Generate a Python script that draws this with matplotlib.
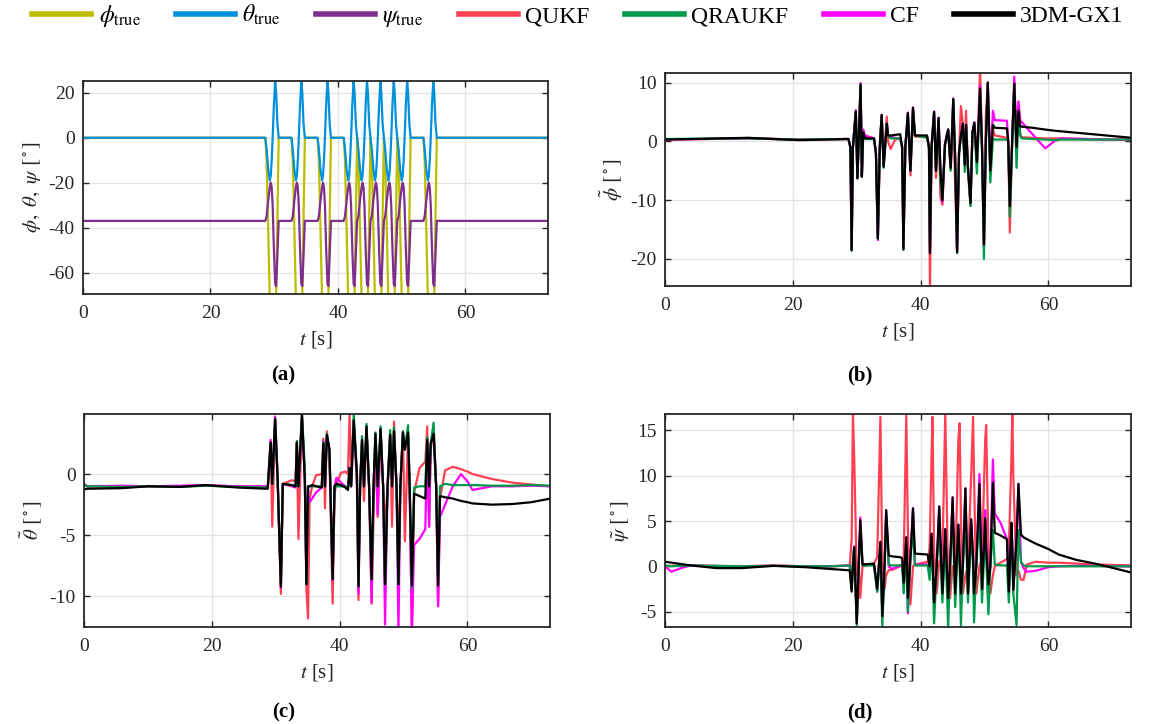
import matplotlib.pyplot as plt
import numpy as np

# serif fonts, MATLAB-like look
plt.rcParams['font.family'] = ['Liberation Serif', 'DejaVu Serif']
plt.rcParams['mathtext.fontset'] = 'stix'
plt.rcParams['axes.unicode_minus'] = False

C_PHI = '#BDBD00'
C_THETA = '#0090DC'
C_PSI = '#7E2F8E'
C_QUKF = '#FF4052'
C_QRAUKF = '#00984A'
C_CF = '#FF00FF'
C_GX1 = '#000000'

# ---------------- (a) true angles ----------------
t_a = [0,
       28.6, 28.8, 29.05, 29.3, 29.45, 29.6, 29.75, 29.95, 30.15, 30.3, 30.5, 30.7,
       32.7, 32.9, 33.15, 33.4, 33.55, 33.7, 33.85, 34.05, 34.25, 34.4, 34.6, 34.8,
       36.8, 37.0, 37.25, 37.5, 37.65, 37.8, 37.95, 38.15, 38.35, 38.5, 38.7, 38.9,
       40.9, 41.1, 41.35, 41.6, 41.75, 41.9, 42.05, 42.25, 42.45, 42.6, 42.8, 43.0,
       43.2, 43.45, 43.7, 43.85, 44.0, 44.15, 44.35, 44.55, 44.7, 44.9, 45.1,
       45.3, 45.55, 45.8, 45.95, 46.1, 46.25, 46.45, 46.65, 46.8, 47.0, 47.2,
       47.4, 47.65, 47.9, 48.05, 48.2, 48.35, 48.55, 48.75, 48.9, 49.1, 49.3,
       49.5, 49.75, 50.0, 50.15, 50.3, 50.45, 50.65, 50.85, 51.0, 51.2, 51.4,
       53.4, 53.6, 53.85, 54.1, 54.25, 54.4, 54.55, 54.75, 54.95, 55.1, 55.3, 55.5,
       73.0]
theta_true = [0,
              0, -5, -14, -19, -17, -10, 0, 15, 25, 20, 6, 0,
              0, -5, -14, -19, -17, -10, 0, 15, 25, 20, 6, 0,
              0, -5, -14, -19, -17, -10, 0, 15, 25, 20, 6, 0,
              0, -5, -14, -19, -17, -10, 0, 15, 25, 20, 6, 0,
              -5, -14, -19, -17, -10, 0, 15, 25, 20, 6, 0,
              -5, -14, -19, -17, -10, 0, 15, 25, 20, 6, 0,
              -5, -14, -19, -17, -10, 0, 15, 25, 20, 6, 0,
              -5, -14, -19, -17, -10, 0, 15, 25, 20, 6, 0,
              0, -5, -14, -19, -17, -10, 0, 15, 25, 20, 6, 0,
              0]
psi_true = [-37,
            -37, -35, -28, -22, -20, -22, -30, -50, -65, -66, -52, -37,
            -37, -35, -28, -22, -20, -22, -30, -50, -65, -66, -52, -37,
            -37, -35, -28, -22, -20, -22, -30, -50, -65, -66, -52, -37,
            -37, -35, -28, -22, -20, -22, -30, -50, -65, -66, -52, -37,
            -35, -28, -22, -20, -22, -30, -50, -65, -66, -52, -37,
            -35, -28, -22, -20, -22, -30, -50, -65, -66, -52, -37,
            -35, -28, -22, -20, -22, -30, -50, -65, -66, -52, -37,
            -35, -28, -22, -20, -22, -30, -50, -65, -66, -52, -37,
            -37, -35, -28, -22, -20, -22, -30, -50, -65, -66, -52, -37,
            -37]
phi_true = [0,
            0, -10, -40, -72, -88, -97, -100, -97, -85, -70, -35, 0,
            0, -10, -40, -72, -88, -97, -100, -97, -85, -70, -35, 0,
            0, -10, -40, -72, -88, -97, -100, -97, -85, -70, -35, 0,
            0, -10, -40, -72, -88, -97, -100, -97, -85, -70, -35, 0,
            -10, -40, -72, -88, -97, -100, -97, -85, -70, -35, 0,
            -10, -40, -72, -88, -97, -100, -97, -85, -70, -35, 0,
            -10, -40, -72, -88, -97, -100, -97, -85, -70, -35, 0,
            -10, -40, -72, -88, -97, -100, -97, -85, -70, -35, 0,
            0, -10, -40, -72, -88, -97, -100, -97, -85, -70, -35, 0,
            0]

# ---------------- (b) roll error ----------------
t_b = [0.0, 13.0, 21.0, 28.7, 29.0, 29.2, 29.4, 29.85, 30.1, 30.6, 30.8, 31.0, 31.3,
       32.7, 33.0, 33.3, 33.6, 33.9, 34.2, 34.7, 34.9, 35.3, 36.0, 36.8, 37.1, 37.3,
       37.6, 38.0, 38.4, 38.8, 39.1, 41.0, 41.3, 41.45, 41.7, 42.1, 42.4, 42.8, 43.1,
       43.4, 43.8, 44.3, 44.7, 45.1, 45.4, 45.7, 46.0, 46.3, 46.6, 46.9, 47.1, 47.4,
       47.8, 48.1, 48.4, 48.8, 49.3, 49.6, 49.9, 50.2, 50.5, 50.9, 51.3, 51.6, 53.5,
       53.7, 53.95, 54.35, 54.65, 55.0, 55.3, 55.6, 55.8, 57.5, 59.5, 61.0, 62.0,
       69.0, 73.0]
gx1_b = [0.3, 0.6, 0.2, 0.4, -1, -18.5, -1, 5.1, -6.3, 9.7, -6, 1.5, 0.5,
         0.5, -2, -16.5, -1, 4.5, -4.3, 3.0, 1.0, 1.0, 1.1, 1.2, -1, -18.3,
         -1, 4.8, -5.0, 5.7, 1.0, 1.0, -1, -19, -1, 5.0, -5.0, 4.0, -5,
         -10, -0.5, 2.0, -4.5, 7.2, -3, -18.8, -2, 1, 3.0, -4.0, 2.8, -4.5,
         -10.5, 1.5, 3.2, -3.5, 9.0, -1, -17.5, 0, 10, -5, 2.8, 2.3, 2.2,
         0, -11, 1, 9.8, -1, 5.2, 2.5, 2.5, 2.3, 2.0, 1.8, 1.7,
         1.0, 0.6]
qukf_b = [0.3, 0.5, 0.3, 0.4, -1, -18.3, -1, 5.0, -6.0, 9.5, -5.8, 1.0, 0.8,
          0.5, -2, -16.3, -1, 4.3, -4, 4.2, 0.0, -1.3, 0.3, 0.5, -1, -18.0,
          -1, 4.6, -5.8, 5.5, 0.8, 0.8, -1, -26, -1, 4.8, -6.2, 3.0, -9.5,
          -10.8, -1, 2.0, -4.8, 6.0, -8, -18.5, -2, 6.0, 3.0, -3, 5.2, -5,
          -11, 1.5, 3.0, -3.5, 12.5, -1, -18, 4.5, 9.5, -5.5, 2, 1.0, 0.6,
          0, -15.5, 1, 10.0, -1, 5.0, 1.0, 0.7, 0.6, 0.5, 0.5, 0.5,
          0.3, 0.3]
qraukf_b = [0.4, 0.5, 0.3, 0.4, -1, -18.6, -1, 5.0, -6.3, 9.5, -6, 1.2, 0.4,
            0.4, -2, -16.6, -1, 4.3, -4.5, 3.0, 1.0, 0.5, 0.5, 0.5, -1, -18.5,
            -1, 4.6, -4.8, 5.5, 1.0, 0.6, -1, -18.5, -1, 4.8, -5, 3.5, -7,
            -9.8, -0.5, 2.0, -5, 7.0, -3, -19, -2, 1, 2.5, -5.2, 2.8, -4.5,
            -11, 1.5, 3.0, -5.5, 8.5, -1, -20, 0, 9.5, -7, 0.5, 0.3, 0.3,
            0, -12.8, 1, 9.5, -4.5, 4.5, 1.0, 0.5, 0.4, 0.3, 0.2, 0.3,
            0.3, 0.3]
cf_b = [0.3, 0.5, 0.3, 0.4, -1, -18.5, -1, 5.3, -6.2, 9.9, -6, 2.0, 1.0,
        0.5, -2, -16.8, -1, 4.5, -4.3, 2.8, 1.0, 0.8, 0.6, 0.5, -1, -18.3,
        -1, 4.9, -5.0, 5.8, 1.0, 0.8, -1, -19, -1, 5.1, -5, 4.0, -5,
        -10.3, -0.5, 2.0, -4.5, 7.3, -3, -19, -2, 1, 3.0, -4, 2.8, -4.5,
        -10.5, 1.5, 3.2, -3.5, 9.5, -1, -17.8, 0, 10, -5, 5.2, 3.6, 3.5,
        0, -11, 1, 11.0, -1, 6.8, 3.5, 3.3, 1.2, -1.2, 0.1, 0.5,
        0.3, 0.3]

# ---------------- (c) pitch error ----------------
t_c = [0.0, 0.5, 6.0, 10.0, 15.0, 19.0, 24.0, 28.75, 29.2, 29.45, 29.9, 30.3, 30.8,
       31.1, 32.5, 33.1, 33.3, 33.55, 34.1, 34.55, 34.8, 35.05, 35.3, 35.7, 36.3,
       37.2, 37.45, 37.7, 38.0, 38.4, 38.9, 39.2, 39.5, 40.2, 40.9, 41.3, 41.55,
       41.8, 42.2, 42.7, 42.95, 43.2, 43.5, 43.8, 44.2, 44.6, 45.0, 45.3, 45.6,
       45.95, 46.4, 46.8, 47.1, 47.5, 47.9, 48.2, 48.5, 48.9, 49.2, 49.5, 49.9,
       50.2, 50.7, 50.95, 51.3, 51.65, 52.5, 53.4, 53.7, 54.0, 54.25, 54.7, 55.1,
       55.4, 55.7, 56.5, 57.7, 59.0, 60.0, 60.8, 63.8, 67.0, 70.0, 73.0]
gx1_c = [-1.25, -1.2, -1.15, -1.0, -1.05, -0.9, -1.1, -1.2, 2.6, -0.8, 4.5, -0.5, -9.2,
         -0.8, -0.9, -1.0, 2.6, -1.0, 4.9, -0.5, -9.0, -1.0, -1.0, -0.9, -1.0,
         -1.1, 2.5, -1.0, 3.2, 2.0, -8.6, -1.0, -0.8, -0.9, -1.1, -1.3, 0.5,
         -1.0, 4.4, 0.0, -9.2, -1.0, 2.8, -1.0, 3.9, -1.0, -8.6, -1.0, 3.3,
         -1.0, 3.7, -1.0, -9.0, -1.0, 3.2, -1.0, 3.5, -1.0, -9.0, -1.0, 3.4,
         2.0, 3.4, -1.0, -9.1, -1.6, -1.8, -2.0, 2.8, -1.0, 2.5, 3.3, -1.0,
         -9.1, -1.8, -1.9, -2.0, -2.2, -2.3, -2.4, -2.5, -2.45, -2.3, -2.0]
qukf_c = [-0.9, -1.0, -1.0, -1.0, -1.0, -0.95, -1.0, -1.05, 2.5, -4.3, 4.4, -0.5, -9.8,
          -0.8, -0.5, -0.6, 2.6, -5.3, 4.7, -0.5, -9.5, -11.8, -2.0, -1.0, -0.1,
          0.0, 2.9, -2.8, 3.5, 1.5, -10.6, -1.5, -0.8, 0.1, 0.2, 0.0, 4.9,
          0.0, 4.4, -1.0, -10.3, -1.0, 2.7, -2.2, 3.5, -1.0, -10.6, -3.5, 3.2,
          -3.5, 3.5, -1.0, -4.3, -1.0, 3.3, -4.3, 4.3, -1.0, -5.5, -1.0, 3.5,
          -5.5, 3.0, -1.0, -13.0, -1.5, 0.5, 1.0, 3.9, -4.3, 2.0, 3.8, -1.0,
          -10.8, -2.0, 0.3, 0.6, 0.4, 0.2, 0.0, -0.4, -0.7, -0.85, -1.0]
qraukf_c = [-0.85, -1.0, -1.05, -1.0, -1.05, -0.95, -1.05, -1.1, 2.5, -0.8, 4.5, -0.5, -9.0,
            -0.8, -0.9, -1.0, 2.7, -1.0, 4.9, 0.5, -9.0, -1.0, -1.0, -1.0, -1.0,
            -1.0, 2.6, -1.0, 3.3, 2.0, -8.5, -1.0, -1.0, -1.0, -1.0, -1.2, 0.5,
            -1.0, 4.9, 0.0, -9.1, -1.0, 3.1, -1.0, 4.1, -1.0, -8.6, -1.0, 3.4,
            -1.0, 3.9, -1.0, -9.0, -1.0, 3.6, -1.0, 3.8, -1.0, -9.0, -1.0, 3.5,
            2.0, 4.0, -1.0, -9.3, -1.1, -1.0, -1.0, 3.0, -1.0, 2.5, 4.2, -1.0,
            -9.0, -1.0, -0.8, -0.9, -0.9, -0.9, -0.9, -0.95, -0.95, -0.9, -0.95]
cf_c = [-0.8, -1.0, -0.95, -1.0, -0.95, -0.9, -1.0, -1.0, 2.8, -0.8, 4.7, -0.5, -9.3,
        -0.8, -1.0, -1.1, 2.5, -1.0, 4.6, -0.5, -9.0, -1.2, -2.3, -2.0, -1.5,
        -1.1, 2.7, -1.0, 3.0, 2.0, -8.7, -1.0, -0.3, -0.7, -1.0, -1.2, 0.5,
        -1.0, 4.2, 0.0, -9.8, -1.0, 2.6, -1.0, 3.8, -1.0, -10.5, -1.0, 3.0,
        -3.3, 3.6, -1.0, -12.3, -1.0, 3.1, -1.0, 3.4, -1.0, -13.0, -1.0, 3.3,
        2.0, 3.3, -1.0, -13.0, -5.8, -5.3, -4.5, 2.6, -4.3, 2.5, 3.1, -1.0,
        -10.8, -3.5, -2.5, -1.0, 0.0, -0.6, -1.3, -1.0, -1.0, -0.95, -1.0]

# ---------------- (d) yaw error ----------------
t_d = [0.0, 1.0, 2.5, 4.0, 8.0, 12.0, 17.0, 22.0, 26.0, 28.9, 29.2, 29.4, 29.6,
       30.0, 30.3, 30.55, 30.9, 32.7, 33.2, 33.7, 34.0, 34.35, 34.6, 35.0, 35.5,
       36.8, 37.1, 37.35, 37.75, 38.0, 38.4, 38.8, 39.1, 41.1, 41.4, 41.7, 41.85,
       42.1, 42.5, 42.9, 43.4, 43.85, 44.3, 44.6, 45.0, 45.4, 45.9, 46.1, 46.3,
       46.6, 47.0, 47.4, 47.9, 48.2, 48.35, 48.7, 49.2, 49.6, 50.1, 50.25, 50.6,
       50.9, 51.3, 51.6, 52.5, 53.5, 53.8, 54.2, 54.35, 54.5, 55.0, 55.3, 55.7,
       56.1, 56.6, 58.0, 60.0, 61.6, 64.4, 67.3, 70.2, 73.0]
gx1_d = [0.5, 0.4, 0.25, 0.1, -0.2, -0.2, 0.05, -0.1, -0.3, -0.45, -2.8, 0.0, 2.1,
         -6.3, 0.0, 5.1, 0.2, 0.3, -2.5, 2.7, -5.5, 0.0, 6.2, 1.2, 1.1,
         1.0, 0.9, -1.8, 3.2, -3.5, 1.0, 6.4, 1.4, 1.3, 0.0, 3.6, 1.0,
         -4.0, 0.0, 6.6, -3.0, 4.1, -3.5, 0.0, 7.6, -3.0, 4.6, 1.0, -3.0,
         0.0, 8.6, -3.0, 5.2, 1.0, -3.0, 0.0, 9.1, -2.5, 5.3, 2.0, -2.0,
         0.0, 9.2, 3.7, 3.4, 3.0, -2.8, 4.8, 2.0, -2.6, 3.0, 9.1, 3.5,
         3.2, 3.0, 2.5, 1.9, 1.3, 0.7, 0.3, -0.2, -0.7]
qukf_d = [0.0, 0.05, 0.1, 0.1, 0.05, 0.0, 0.1, 0.0, 0.0, 0.1, 3.0, 17.0, 12.0,
          -1.0, 0.5, -3.5, 0.0, 0.3, 1.0, 16.5, 0.0, -2.5, -1.0, -0.4, -0.4,
          0.0, 0.0, 1.0, 16.7, 4.0, -4.2, 0.0, 0.2, 0.5, 2.0, 12.0, 16.5,
          2.0, -3.0, 0.5, 1.0, 16.9, -2.0, -3.5, 0.0, -1.0, 14.0, 15.8, 5.0,
          -3.0, -1.0, 0.0, 10.0, 16.5, 10.0, -3.0, 0.0, 1.0, 14.0, 15.6, 2.0,
          -3.0, -1.0, 0.0, 0.4, 0.8, 2.0, 12.0, 17.0, 10.0, -1.0, -0.5, -1.5,
          -1.5, 0.2, 0.5, 0.4, 0.4, 0.3, 0.2, 0.15, 0.1]
qraukf_d = [0.1, 0.0, 0.05, 0.1, 0.05, 0.0, 0.05, 0.0, 0.0, 0.1, -2.6, 0.5, 2.0,
            -6.5, 0.0, 4.0, 0.1, 0.1, -2.8, 1.5, -6.7, 0.0, 5.5, 0.2, 0.1,
            0.1, 0.1, -3.0, 2.0, -5.0, 1.0, 4.0, 0.1, 0.1, -1.5, 2.5, 0.0,
            -6.3, 0.0, 5.0, -4.0, 3.0, -6.7, 0.0, 6.0, -4.5, 3.5, 0.0, -6.5,
            0.0, 6.5, -4.0, 3.8, 0.0, -6.2, 0.0, 6.0, -4.0, 4.0, 1.0, -5.3,
            0.0, 4.0, 0.2, 0.1, 0.1, -4.0, 4.5, 0.5, -3.0, -6.5, 4.0, 0.5,
            0.1, 0.0, 0.0, 0.0, 0.0, 0.0, 0.0, 0.0, 0.0]
cf_d = [0.0, -0.6, -0.2, 0.1, 0.0, 0.0, 0.05, 0.0, 0.0, 0.1, -2.6, 0.5, 2.2,
        -6.3, 0.0, 5.4, 0.2, 0.2, -2.8, 2.7, -5.5, 0.0, 6.2, 0.0, -0.3,
        0.1, 0.1, -1.8, 3.2, -5.2, 1.0, 6.4, 0.2, 0.2, 0.0, 3.6, 1.0,
        -4.0, 0.0, 6.6, -3.0, 4.1, -3.5, 0.0, 7.6, -3.0, 4.6, 1.0, -3.0,
        0.0, 8.6, -3.0, 5.2, 1.0, -3.0, 0.0, 10.2, -2.5, 6.2, 3.0, -2.0,
        0.0, 11.8, 5.8, 4.8, 3.0, -2.8, 4.8, 2.0, -2.6, 3.0, 9.1, 0.5,
        -0.2, -0.6, -0.5, -0.1, 0.0, 0.05, 0.05, 0.0, 0.0]

LW = 1.6


def style_axes(ax, ylim, yticks, ylabel):
    ax.set_xlim(0, 72.9)
    ax.set_ylim(*ylim)
    ax.set_xticks([0, 20, 40, 60])
    ax.set_yticks(yticks)
    ax.grid(True, color='#e2e2e2', linewidth=0.9)
    ax.set_axisbelow(True)
    ax.tick_params(direction='in', top=True, right=True, length=4,
                   width=1.0, color='#262626', labelsize=14, labelcolor='#262626')
    ax.tick_params(axis='x', pad=8)
    ax.tick_params(axis='y', pad=6)
    for s in ax.spines.values():
        s.set_color('#262626')
        s.set_linewidth(1.3)
    ax.set_xlabel(r'$t$ [s]', fontsize=15, color='#262626', labelpad=5)
    ax.set_ylabel(ylabel, fontsize=15, color='#262626', labelpad=4)


fig = plt.figure(figsize=(11.56, 7.24), dpi=100)

ax_a = fig.add_axes([0.0718, 0.594, 0.402, 0.294])
ax_b = fig.add_axes([0.5753, 0.605, 0.403, 0.294])
ax_c = fig.add_axes([0.0727, 0.134, 0.403, 0.294])
ax_d = fig.add_axes([0.5753, 0.134, 0.403, 0.294])

h_phi, = ax_a.plot(t_a, phi_true, color=C_PHI, lw=LW)
h_theta, = ax_a.plot(t_a, theta_true, color=C_THETA, lw=LW)
h_psi, = ax_a.plot(t_a, psi_true, color=C_PSI, lw=LW)
style_axes(ax_a, (-69.5, 25.2), [-60, -40, -20, 0, 20],
           r'$\phi,\ \theta,\ \psi$ $[^\circ]$')

for ax, t, q, r, c, g in [(ax_b, t_b, qukf_b, qraukf_b, cf_b, gx1_b),
                          (ax_c, t_c, qukf_c, qraukf_c, cf_c, gx1_c),
                          (ax_d, t_d, qukf_d, qraukf_d, cf_d, gx1_d)]:
    h_q, = ax.plot(t, q, color=C_QUKF, lw=LW)
    h_c, = ax.plot(t, c, color=C_CF, lw=LW)
    h_r, = ax.plot(t, r, color=C_QRAUKF, lw=LW)
    h_g, = ax.plot(t, g, color=C_GX1, lw=LW)

style_axes(ax_b, (-24.6, 11.6), [-20, -10, 0, 10], r'$\tilde{\phi}$ $[^\circ]$')
style_axes(ax_c, (-12.5, 4.9), [-10, -5, 0], r'$\tilde{\theta}$ $[^\circ]$')
style_axes(ax_d, (-6.7, 16.8), [-5, 0, 5, 10, 15], r'$\tilde{\psi}$ $[^\circ]$')

fig.text(0.245, 0.482, '(a)', ha='center', va='center', fontsize=15, fontweight='bold')
fig.text(0.744, 0.482, '(b)', ha='center', va='center', fontsize=15, fontweight='bold')
fig.text(0.245, 0.016, '(c)', ha='center', va='center', fontsize=15, fontweight='bold')
fig.text(0.744, 0.016, '(d)', ha='center', va='center', fontsize=15, fontweight='bold')

handles = [h_phi, h_theta, h_psi, h_q, h_r, h_c, h_g]
labels = [r'$\phi_{\mathrm{true}}$', r'$\theta_{\mathrm{true}}$', r'$\psi_{\mathrm{true}}$',
          'QUKF', 'QRAUKF', 'CF', '3DM-GX1']
leg = fig.legend(handles, labels, loc='upper center', bbox_to_anchor=(0.5, 1.025),
                 ncol=7, frameon=False, fontsize=17, handlelength=2.5,
                 handletextpad=0.3, columnspacing=1.5)
for line in leg.get_lines():
    line.set_linewidth(4)

fig.savefig('out.png', dpi=100)
